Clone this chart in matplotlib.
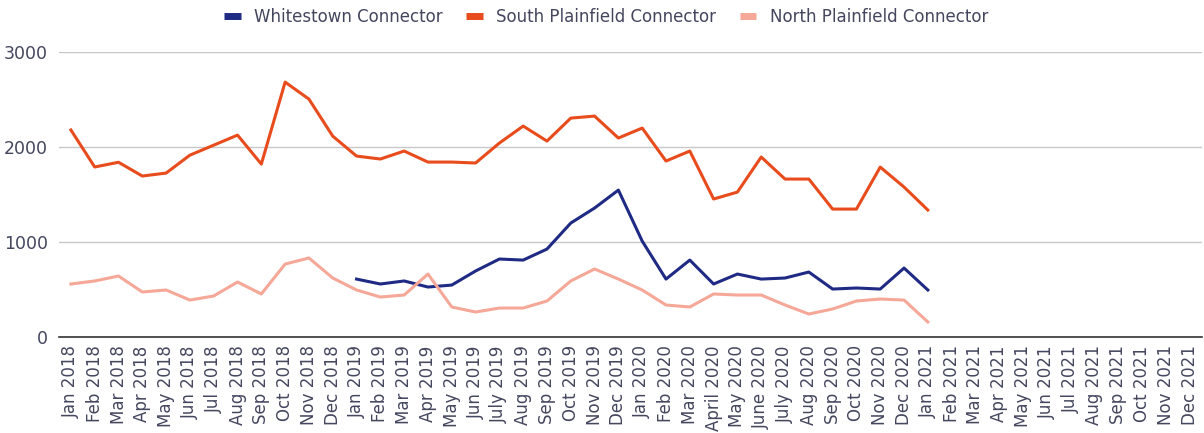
import matplotlib
matplotlib.use("Agg")
import matplotlib.pyplot as plt
import numpy as np

months = ["Jan 2018", "Feb 2018", "Mar 2018", "Apr 2018", "May 2018", "Jun 2018",
          "Jul 2018", "Aug 2018", "Sep 2018", "Oct 2018", "Nov 2018", "Dec 2018",
          "Jan 2019", "Feb 2019", "Mar 2019", "Apr 2019", "May 2019", "Jun 2019",
          "July 2019", "Aug 2019", "Sep 2019", "Oct 2019", "Nov 2019", "Dec 2019",
          "Jan 2020", "Feb 2020", "Mar 2020", "April 2020", "May 2020", "June 2020",
          "July 2020", "Aug 2020", "Sep 2020", "Oct 2020", "Nov 2020", "Dec 2020",
          "Jan 2021", "Feb 2021", "Mar 2021", "Apr 2021", "May 2021", "Jun 2021",
          "Jul 2021", "Aug 2021", "Sep 2021", "Oct 2021", "Nov 2021", "Dec 2021"]

# Whitestown starts Jan 2019 (index 12)
whitestown = [610, 558, 590, 526, 547, 695, 821, 810, 926, 1200, 1358, 1547,
              1010, 610, 810, 558, 663, 610, 621, 684, 505, 516, 505, 726, 495]
south_plainfield = [2180, 1790, 1840, 1695, 1726, 1915, 2020, 2126, 1821, 2684, 2505, 2115,
                    1905, 1874, 1958, 1842, 1842, 1832, 2042, 2221, 2063, 2305, 2326, 2095,
                    2200, 1853, 1958, 1453, 1526, 1895, 1663, 1663, 1347, 1347, 1789, 1579,
                    1337]
north_plainfield = [558, 590, 642, 474, 495, 389, 432, 579, 453, 768, 832, 621,
                    495, 421, 442, 663, 316, 263, 305, 305, 379, 590, 716, 610,
                    495, 337, 316, 453, 442, 442, 337, 242, 295, 379, 400, 389,
                    158]

txt = "#44465e"
fig = plt.figure(figsize=(12.04, 4.33), dpi=100)
ax = fig.add_axes([0.049, 0.2217, 0.949, 0.658])

x = np.arange(len(months))
ax.plot(x[12:12 + len(whitestown)], whitestown, color="#1f2a84", lw=2.2, label="Whitestown Connector")
ax.plot(x[:len(south_plainfield)], south_plainfield, color="#e84b1c", lw=2.2, label="South Plainfield Connector")
ax.plot(x[:len(north_plainfield)], north_plainfield, color="#f5a798", lw=2.2, label="North Plainfield Connector")

ax.set_xlim(-0.5, len(months) - 0.5)
ax.set_ylim(0, 3000)
ax.set_yticks([0, 1000, 2000, 3000])
ax.set_xticks(x)
ax.set_xticklabels(months, rotation=90, fontsize=12, color=txt)
ax.tick_params(axis="y", labelsize=12.5, labelcolor=txt, length=0, pad=8)
ax.tick_params(axis="x", length=0, pad=6)
ax.grid(axis="y", color="#c8c8c8", lw=1)
ax.set_axisbelow(True)
for s in ["left", "right", "top"]:
    ax.spines[s].set_visible(False)
ax.spines["bottom"].set_color("#333333")
ax.spines["bottom"].set_linewidth(1.2)

leg = ax.legend(loc="center", bbox_to_anchor=(0.479, 1.123), ncol=3, frameon=False,
                fontsize=12, handlelength=1.0, handletextpad=0.8, columnspacing=1.4,
                borderpad=0)
for h in leg.get_lines():
    h.set_linewidth(5)
    h.set_solid_capstyle("butt")
for t in leg.get_texts():
    t.set_color(txt)

plt.savefig("out.png", dpi=100)
